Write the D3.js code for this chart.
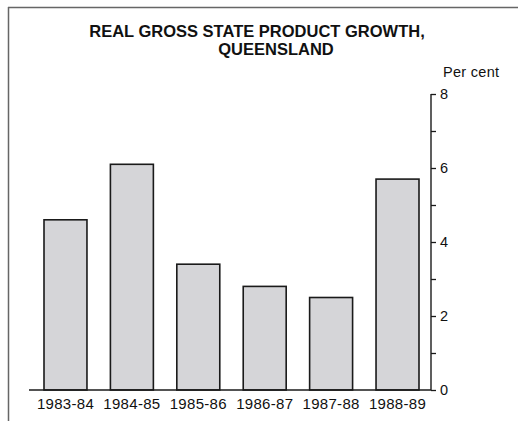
<!DOCTYPE html>
<html><head><meta charset="utf-8">
<script src="https://cdn.jsdelivr.net/npm/d3@7"></script>
<style>body{margin:0;background:#fff}svg{display:block}text{font-family:"Liberation Sans",Arial,Helvetica,sans-serif;fill:#111}</style>
</head><body>
<script>
const categories = ["1983-84","1984-85","1985-86","1986-87","1987-88","1988-89"];
const values = [4.6, 6.1, 3.4, 2.8, 2.5, 5.7];
const majorTicks = [0, 2, 4, 6, 8];
const minorTicks = [1, 3, 5, 7];
const titleLines = ["REAL GROSS STATE PRODUCT GROWTH,", "QUEENSLAND"];
const unitLabel = "Per cent";

const W = 518, H = 421;
const svg = d3.select("body").append("svg").attr("width", W).attr("height", H);

// frame
svg.append("line").attr("x1", 8).attr("x2", W).attr("y1", 7.5).attr("y2", 7.5).attr("stroke", "#666").attr("stroke-width", 1.5);
svg.append("line").attr("x1", 8.5).attr("x2", 8.5).attr("y1", 7).attr("y2", H).attr("stroke", "#666").attr("stroke-width", 1.5);

const x = d3.scaleBand().domain(categories).range([27.4, 435.6]).paddingInner(0.353).paddingOuter(0.25);
const y = d3.scaleLinear().domain([0, 8]).range([390, 94]);

// title
svg.append("text").attr("x", 257).attr("y", 37).attr("text-anchor", "middle")
  .style("font-size", "16.5px").style("font-weight", "bold").text(titleLines[0]);
svg.append("text").attr("x", 276).attr("y", 55).attr("text-anchor", "middle")
  .style("font-size", "16.5px").style("font-weight", "bold").text(titleLines[1]);
svg.append("text").attr("x", 443).attr("y", 77).style("font-size", "14.5px").attr("letter-spacing", "0.3px").text(unitLabel);

// bars
svg.selectAll("rect.bar").data(values).join("rect").attr("class", "bar")
  .attr("x", (d, i) => x(categories[i]))
  .attr("width", x.bandwidth())
  .attr("y", d => y(d))
  .attr("height", d => y(0) - y(d))
  .attr("fill", "#d5d5d8").attr("stroke", "#1a1a1a").attr("stroke-width", 1.6);

// baseline
svg.append("line").attr("x1", 29).attr("x2", 431).attr("y1", y(0)).attr("y2", y(0)).attr("stroke", "#1a1a1a").attr("stroke-width", 1.4);

// right axis
const axisX = 431;
const ax = svg.append("g").attr("transform", `translate(${axisX},0)`);
ax.call(d3.axisRight(y).tickValues(majorTicks).tickSize(5).tickPadding(4).tickFormat(d3.format("d")));
ax.select(".domain").remove();
ax.append("line").attr("x1", 0).attr("x2", 0).attr("y1", y(8)).attr("y2", y(0)).attr("stroke", "#1a1a1a").attr("stroke-width", 1.4);
ax.selectAll(".tick line").attr("stroke", "#1a1a1a").attr("stroke-width", 1.3);
ax.selectAll(".tick text").style("font-size", "14.5px").style("font-family", "'Liberation Sans',Arial,sans-serif").attr("fill", "#111");
const minor = svg.append("g").attr("transform", `translate(${axisX},0)`);
minor.call(d3.axisRight(y).tickValues(minorTicks).tickSize(5).tickFormat(""));
minor.select(".domain").remove();
minor.selectAll(".tick line").attr("stroke", "#1a1a1a").attr("stroke-width", 1.3);

// x labels
const xa = svg.append("g").attr("transform", `translate(0,${y(0)})`);
xa.call(d3.axisBottom(x).tickSize(0).tickPadding(8));
xa.select(".domain").remove();
xa.selectAll(".tick text").style("font-size", "15px").style("font-family", "'Liberation Sans',Arial,sans-serif").attr("fill", "#111").attr("dy", "0.71em").attr("letter-spacing", "0.3px");
</script>
</body></html>
